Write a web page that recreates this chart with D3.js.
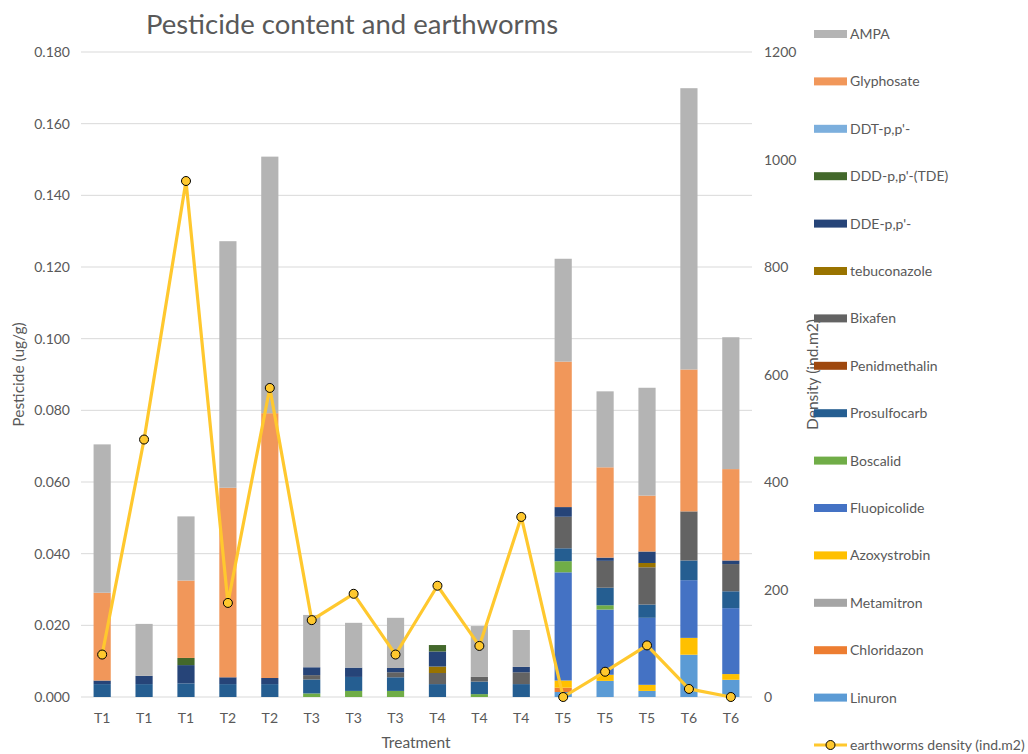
<!DOCTYPE html>
<html>
<head>
<meta charset="utf-8">
<script src="https://cdn.jsdelivr.net/npm/d3@7"></script>
<style>
  body { margin: 0; background: #fff; }
  text { font-family: Lato, "Liberation Sans", sans-serif; fill: #595959; }
</style>
</head>
<body>
<div id="chart"></div>
<script>
const treatments = ["T1", "T1", "T1", "T2", "T2", "T3", "T3", "T3", "T4", "T4", "T4", "T5", "T5", "T5", "T6", "T6"];

// stacking order, bottom to top
const seriesNames = ["Linuron", "Chloridazon", "Metamitron", "Azoxystrobin", "Fluopicolide", "Boscalid",
  "Prosulfocarb", "Penidmethalin", "Bixafen", "tebuconazole", "DDE-p,p'-", "DDD-p,p'-(TDE)", "DDT-p,p'-",
  "Glyphosate", "AMPA"];
const seriesColors = ["#5B9BD5", "#ED7D31", "#A5A5A5", "#FFC000", "#4472C4", "#70AD47",
  "#255E91", "#9E480E", "#636363", "#997300", "#264478", "#43682B", "#7CAFDD",
  "#F1975A", "#B4B4B4"];

const linuron       = [0, 0, 0, 0, 0, 0, 0, 0, 0, 0, 0, 0.0014, 0.0045, 0.0017, 0.0118, 0.0048];
const chloridazon   = [0, 0, 0, 0, 0, 0, 0, 0, 0, 0, 0, 0.0012, 0, 0, 0, 0];
const metamitron    = [0, 0, 0, 0, 0, 0, 0, 0, 0, 0, 0, 0, 0, 0, 0, 0];
const azoxystrobin  = [0, 0, 0, 0, 0, 0, 0, 0, 0, 0, 0, 0.0020, 0.0017, 0.0017, 0.0047, 0.0016];
const fluopicolide  = [0, 0, 0, 0, 0, 0, 0, 0, 0, 0, 0, 0.0302, 0.0182, 0.0187, 0.0161, 0.0184];
const boscalid      = [0, 0, 0, 0, 0, 0.0010, 0.0017, 0.0017, 0, 0.0008, 0, 0.0031, 0.0012, 0, 0, 0];
const prosulfocarb  = [0.0036, 0.0036, 0.0038, 0.0036, 0.0036, 0.0039, 0.0039, 0.0038, 0.0036, 0.0035, 0.0036, 0.0036, 0.0049, 0.0037, 0.0055, 0.0047];
const penidmethalin = [0, 0, 0, 0, 0, 0, 0, 0, 0, 0, 0, 0, 0, 0, 0, 0];
const bixafen       = [0, 0, 0, 0, 0, 0.0012, 0, 0.0014, 0.0031, 0.0013, 0.0033, 0.0088, 0.0075, 0.0104, 0.0137, 0.0076];
const tebuconazole  = [0, 0, 0, 0, 0, 0, 0, 0, 0.0018, 0, 0, 0, 0, 0.0012, 0, 0];
const dde           = [0.0010, 0.0023, 0.0051, 0.0019, 0.0017, 0.0022, 0.0026, 0.0012, 0.0042, 0, 0.0015, 0.0027, 0.0009, 0.0032, 0, 0.0010];
const ddd           = [0, 0, 0.0020, 0, 0, 0, 0, 0, 0.0018, 0, 0, 0, 0, 0, 0, 0];
const ddt           = [0, 0, 0, 0, 0, 0, 0, 0, 0, 0, 0, 0, 0, 0, 0, 0];
const glyphosate    = [0.0245, 0, 0.0216, 0.0529, 0.0739, 0, 0, 0, 0, 0, 0, 0.0406, 0.0252, 0.0156, 0.0396, 0.0255];
const ampa          = [0.0414, 0.0145, 0.0179, 0.0688, 0.0716, 0.0146, 0.0125, 0.0140, 0, 0.0142, 0.0103, 0.0287, 0.0212, 0.0301, 0.0785, 0.0368];

const density = [79, 479, 960, 175, 575, 143, 192, 79, 207, 95, 335, 0, 47, 96, 15, 0];

const seriesValues = [linuron, chloridazon, metamitron, azoxystrobin, fluopicolide, boscalid,
  prosulfocarb, penidmethalin, bixafen, tebuconazole, dde, ddd, ddt, glyphosate, ampa];

const leftTicks = [0, 0.02, 0.04, 0.06, 0.08, 0.1, 0.12, 0.14, 0.16, 0.18];
const rightTicks = [0, 200, 400, 600, 800, 1000, 1200];

const W = 1028, H = 754;
const plot = { left: 81, right: 752, top: 52, bottom: 697 };

const svg = d3.select("#chart").append("svg")
  .attr("width", W).attr("height", H);

const rows = treatments.map((t, i) => {
  const r = { i };
  seriesNames.forEach((s, k) => r[s] = seriesValues[k][i]);
  return r;
});

const x = d3.scaleBand().domain(d3.range(treatments.length))
  .range([plot.left, plot.right]).paddingInner(0.59).paddingOuter(0.3);
const y = d3.scaleLinear().domain([0, 0.18]).range([plot.bottom, plot.top]);
const y2 = d3.scaleLinear().domain([0, 1200]).range([plot.bottom, plot.top]);

// gridlines
svg.append("g").selectAll("line").data(leftTicks).join("line")
  .attr("x1", plot.left).attr("x2", plot.right)
  .attr("y1", d => y(d)).attr("y2", d => y(d))
  .attr("stroke", "#d9d9d9").attr("stroke-width", 1);

// left axis labels
svg.append("g").selectAll("text").data(leftTicks).join("text")
  .attr("x", 70).attr("y", d => y(d) + 5)
  .attr("text-anchor", "end").attr("font-size", 14)
  .text(d => d3.format(".3f")(d));

// right axis labels
svg.append("g").selectAll("text").data(rightTicks).join("text")
  .attr("x", 764).attr("y", d => y2(d) + 5)
  .attr("text-anchor", "start").attr("font-size", 14)
  .text(d => d);

// stacked bars
const stack = d3.stack().keys(seriesNames)(rows);
const color = d3.scaleOrdinal().domain(seriesNames).range(seriesColors);

svg.append("g").selectAll("g").data(stack).join("g")
  .attr("fill", d => color(d.key))
  .selectAll("rect").data(d => d).join("rect")
  .attr("x", d => x(d.data.i))
  .attr("width", x.bandwidth())
  .attr("y", d => y(d[1]))
  .attr("height", d => y(d[0]) - y(d[1]));

// x labels
svg.append("g").selectAll("text").data(treatments).join("text")
  .attr("x", (d, i) => x(i) + x.bandwidth() / 2).attr("y", 723)
  .attr("text-anchor", "middle").attr("font-size", 14)
  .text(d => d);

// density line
const line = d3.line()
  .x((d, i) => x(i) + x.bandwidth() / 2)
  .y(d => y2(d));
svg.append("path").datum(density)
  .attr("d", line).attr("fill", "none")
  .attr("stroke", "#FFC82E").attr("stroke-width", 3.2)
  .attr("stroke-linejoin", "round");
svg.append("g").selectAll("circle").data(density).join("circle")
  .attr("cx", (d, i) => x(i) + x.bandwidth() / 2)
  .attr("cy", d => y2(d))
  .attr("r", 4.5)
  .attr("fill", "#FFC82E").attr("stroke", "#000").attr("stroke-width", 1);

// titles
svg.append("text").attr("x", 352).attr("y", 34)
  .attr("text-anchor", "middle").attr("font-size", 27.5)
  .text("Pesticide content and earthworms");
svg.append("text").attr("x", 416).attr("y", 748)
  .attr("text-anchor", "middle").attr("font-size", 15.5)
  .text("Treatment");
svg.append("text").attr("transform", `translate(24,${(plot.top + plot.bottom) / 2}) rotate(-90)`)
  .attr("text-anchor", "middle").attr("font-size", 15.5)
  .text("Pesticide (ug/g)");
svg.append("text").attr("transform", `translate(818,${(plot.top + plot.bottom) / 2}) rotate(-90)`)
  .attr("text-anchor", "middle").attr("font-size", 15.5)
  .text("Density (ind.m2)");

// legend
const legendItems = seriesNames.slice().reverse();
const legend = svg.append("g").attr("transform", "translate(814,34)");
legendItems.forEach((key, i) => {
  const g = legend.append("g").attr("transform", `translate(0,${i * 47.4})`);
  g.append("rect").attr("x", 0).attr("y", -4).attr("width", 33).attr("height", 8).attr("fill", color(key));
  g.append("text").attr("x", 36).attr("y", 5).attr("font-size", 14).text(key);
});
const lg = legend.append("g").attr("transform", `translate(0,${legendItems.length * 47.4})`);
lg.append("line").attr("x1", 0).attr("x2", 33).attr("y1", 0).attr("y2", 0)
  .attr("stroke", "#FFC82E").attr("stroke-width", 3.2);
lg.append("circle").attr("cx", 16.5).attr("cy", 0).attr("r", 4.5)
  .attr("fill", "#FFC82E").attr("stroke", "#000").attr("stroke-width", 1);
lg.append("text").attr("x", 36).attr("y", 5).attr("font-size", 14).text("earthworms density (ind.m2)");
</script>
</body>
</html>
